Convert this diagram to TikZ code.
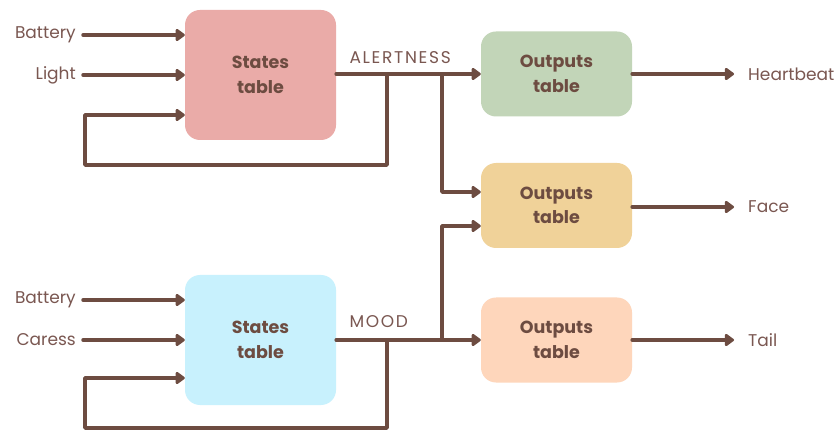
\documentclass[tikz,border=0pt]{standalone}
\usepackage{fontspec}
\setmainfont{Poppins}
\usetikzlibrary{arrows.meta}
\definecolor{wire}{HTML}{6D4C41}
\definecolor{labeltext}{HTML}{7A5751}
\definecolor{pinkfill}{HTML}{EAABA8}
\definecolor{bluefill}{HTML}{C8F1FD}
\definecolor{greenfill}{HTML}{C2D5B8}
\definecolor{yellowfill}{HTML}{F0D299}
\definecolor{peachfill}{HTML}{FED6BB}
\tikzset{
  tablebox/.style={rounded corners=15pt, minimum width=151pt, inner sep=0pt,
    align=center, text=wire, font=\fontsize{17.5}{24.5}\selectfont\bfseries},
  statebox/.style={tablebox, minimum height=130pt},
  outbox/.style={tablebox, minimum height=85pt},
  lbl/.style={text=labeltext, font=\fontsize{17}{20}\selectfont, inner ysep=0pt},
  varlbl/.style={lbl, anchor=west, font=\fontsize{17}{20}\selectfont\addfontfeature{LetterSpace=10}},
  inlbl/.style={lbl, anchor=east, inner xsep=7pt},
  outlbl/.style={lbl, anchor=west, inner xsep=14pt},
  wireline/.style={draw=wire, line width=3.5pt, line cap=round, line join=round},
  arr/.style={wireline, -{Triangle[length=10pt,width=14pt,round]}}
}
\begin{document}
\begin{tikzpicture}[x=1pt,y=-1pt]
\useasboundingbox[fill=white] (0,0) rectangle (835,430);

% state tables
\node[statebox, fill=pinkfill] (s1) at (260.5,75) {States\\table};
\node[statebox, fill=bluefill] (s2) at (260.5,340) {States\\table};

% output tables
\node[outbox, fill=greenfill] (o1) at (556.5,74) {Outputs\\table};
\node[outbox, fill=yellowfill] (o2) at (556.5,205.5) {Outputs\\table};
\node[outbox, fill=peachfill] (o3) at (556.5,340) {Outputs\\table};

% inputs
\node[inlbl] (bat1) at (83,35) {Battery};
\node[inlbl] (light) at (83,75) {Light};
\node[inlbl] (bat2) at (83,300) {Battery};
\node[inlbl] (caress) at (83,340) {Caress};

\draw[arr] (bat1.east) -- (s1.west |- bat1.east);
\draw[arr] (light.east) -- (s1.west |- light.east);
\draw[arr] (bat2.east) -- (s2.west |- bat2.east);
\draw[arr] (caress.east) -- (s2.west |- caress.east);

% outputs
\node[outlbl] (heart) at (734,74) {Heartbeat};
\node[outlbl] (face) at (734,207) {Face};
\node[outlbl] (tail) at (734,340) {Tail};

\draw[arr] (o1.east |- heart.west) -- (heart.west);
\draw[arr] (o2.east |- face.west) -- (face.west);
\draw[arr] (o3.east |- tail.west) -- (tail.west);

% state variable names
\node[varlbl] (alert) at (346,58) {ALERTNESS};
\node[varlbl] (mood) at (346,322) {MOOD};

% junction points
\coordinate (fb1) at (387,74);
\coordinate (fb2) at (387,340);
\coordinate (br1) at (442,74);
\coordinate (br2) at (442,340);

% ALERTNESS distribution and feedback
\draw[arr] (s1.east |- o1.west) -- (o1.west);
\draw[arr] (br1) -- (br1 |- 0,192) -- (o2.west |- 0,192);
\draw[arr] (fb1) -- (fb1 |- 0,165) -- (85,165) -- (85,115) -- (s1.west |- 0,115);

% MOOD distribution and feedback
\draw[arr] (s2.east) -- (o3.west);
\draw[arr] (br2) -- (br2 |- 0,226) -- (o2.west |- 0,226);
\draw[arr] (fb2) -- (fb2 |- 0,428) -- (85,428) -- (85,378) -- (s2.west |- 0,378);
\end{tikzpicture}
\end{document}
